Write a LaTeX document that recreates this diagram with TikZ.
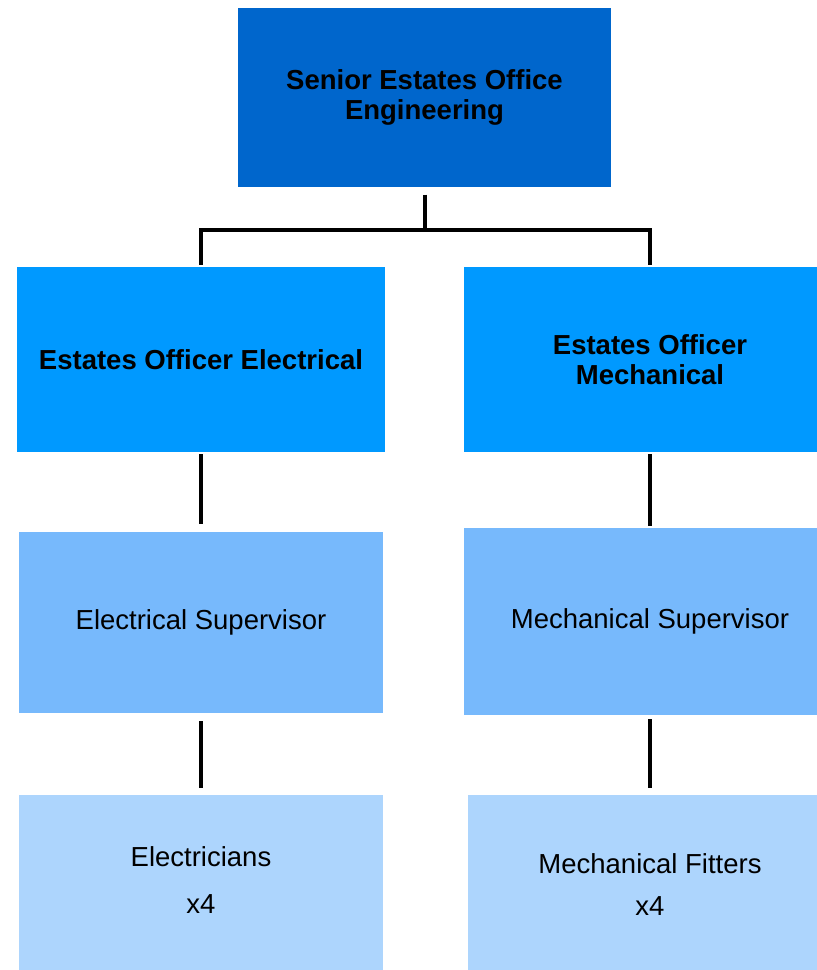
\documentclass[tikz,border=0pt]{standalone}
\usepackage{fontspec}
\setmainfont{Liberation Sans}
\usepackage{xcolor}
\usetikzlibrary{positioning}

\definecolor{headblue}{RGB}{0,102,204}
\definecolor{officerblue}{RGB}{0,153,255}
\definecolor{supblue}{RGB}{119,185,252}
\definecolor{staffblue}{RGB}{173,213,253}

\begin{document}
\begin{tikzpicture}[on grid,auto,line width=4pt]
        \tikzstyle{post}=[draw=none,inner sep=0pt,align=center,text=black]
        \tikzstyle{head}=[post,fill=headblue,minimum width=373pt,minimum height=179pt,font=\fontsize{27.5}{30}\selectfont\bfseries]
        \tikzstyle{officer}=[post,fill=officerblue,minimum height=185pt,font=\fontsize{27.5}{30}\selectfont\bfseries]
        \tikzstyle{super}=[post,fill=supblue,minimum width=364pt,font=\fontsize{27.5}{31}\selectfont]
        \tikzstyle{staff}=[post,fill=staffblue,minimum width=364pt,minimum height=180pt,font=\fontsize{27.5}{31}\selectfont]
        \useasboundingbox (0,0) rectangle (817pt,-970pt);
        \node[head] (Top) at (424.5pt,-97pt) {Senior Estates Office\\Engineering};
        \node[officer,minimum width=368pt] (Elec) [below left=262.5pt and 223.5pt of Top] {Estates Officer Electrical};
        \node[officer,minimum width=372pt] (Mech) [below right=262.5pt and 225.5pt of Top] {Estates Officer\\Mechanical};
        \node[super,minimum height=181pt] (ElecSup) [below=263pt of Elec] {Electrical Supervisor};
        \node[super,minimum width=372pt,minimum height=187pt] (MechSup) [below=262pt of Mech] {Mechanical Supervisor};
        \node[staff,text depth=10pt] (Electricians) [below=262.5pt of ElecSup] {Electricians\\[16pt]x4};
        \node[staff] (Fitters) [below=263.5pt of MechSup] {Mechanical Fitters\\[11pt]x4};
        \coordinate[below=41pt of Top.south] (fork);
        \draw[shorten <=6pt] (Top) -- (fork);
        \draw (fork) -| (Elec);
        \draw (fork) -| (Mech);
        \path[draw]
        (Elec) edge[shorten >=6pt] (ElecSup)
        (Mech) edge (MechSup)
        (ElecSup) edge[shorten <=6pt,shorten >=5pt] (Electricians)
        (MechSup) edge[shorten <=2pt,shorten >=5pt] (Fitters);
    \end{tikzpicture}
\end{document}
